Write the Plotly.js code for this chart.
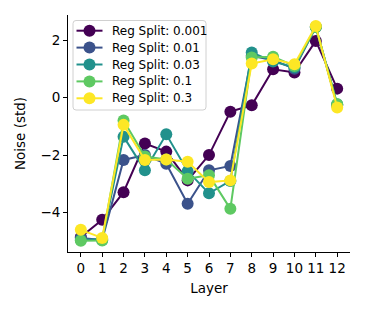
<!DOCTYPE html>
<html>
<head>
<meta charset="utf-8">
<script src="https://cdn.plot.ly/plotly-3.0.1.min.js"></script>
<style>html,body{margin:0;padding:0;background:#fff;}#chart{width:366px;height:313px;}</style>
</head>
<body>
<div id="chart"></div>
<script>
const layers = [0,1,2,3,4,5,6,7,8,9,10,11,12];
const seriesNames = ["Reg Split: 0.001","Reg Split: 0.01","Reg Split: 0.03","Reg Split: 0.1","Reg Split: 0.3"];
const colors = ["#440154","#3b528b","#21918c","#5ec962","#fde725"];
const s0001 = [-4.85,-4.25,-3.29,-1.6,-1.88,-2.88,-2.0,-0.49,-0.27,0.98,0.87,1.97,0.31];
const s001  = [-4.88,-4.95,-2.17,-2.0,-2.3,-3.69,-2.53,-2.38,1.45,1.3,1.0,2.45,-0.27];
const s003  = [-4.95,-4.92,-1.36,-2.53,-1.28,-2.56,-3.33,-2.9,1.57,1.25,1.05,2.45,-0.23];
const s01   = [-4.98,-4.97,-0.8,-2.05,-2.15,-2.82,-2.7,-3.87,1.39,1.42,1.1,2.45,-0.23];
const s03   = [-4.6,-4.88,-0.95,-2.17,-2.15,-2.23,-2.94,-2.88,1.18,1.33,1.16,2.49,-0.35];
const allSeries = [s0001,s001,s003,s01,s03];

const traces = allSeries.map((vals,i)=>({
  x: layers, y: vals, name: seriesNames[i], type:'scatter', mode:'lines+markers',
  line:{color:colors[i], width:2},
  marker:{color:colors[i], size:12},
  showlegend:false
}));

// plot area in pixels (for the hand-built legend box)
const W=366, H=313, ML=68, MR=16, MT=15, MB=61;
const PW=W-ML-MR, PH=H-MT-MB;
const px=v=>(v-ML)/PW, py=v=>(H-MB-v)/PH;

const shapes=[];
const annotations=[];
// legend frame with rounded corners
(function(){
  const x0=73,x1=206,y0=20.5,y1=110,r=3;
  const P=(a,b)=>px(a)+','+py(b);
  const path='M'+P(x0+r,y0)+' L'+P(x1-r,y0)+' Q'+P(x1,y0)+' '+P(x1,y0+r)+
    ' L'+P(x1,y1-r)+' Q'+P(x1,y1)+' '+P(x1-r,y1)+' L'+P(x0+r,y1)+' Q'+P(x0,y1)+' '+P(x0,y1-r)+
    ' L'+P(x0,y0+r)+' Q'+P(x0,y0)+' '+P(x0+r,y0)+' Z';
  shapes.push({type:'path', xref:'paper', yref:'paper', path:path, layer:'above',
    fillcolor:'rgba(255,255,255,0.8)', line:{color:'#d0d0d0', width:1}});
})();
seriesNames.forEach((name,i)=>{
  const rowY=30.7+i*16.9;
  shapes.push({type:'line', xref:'paper', yref:'paper', layer:'above',
    x0:px(76.5), x1:px(102.5), y0:py(rowY), y1:py(rowY), line:{color:colors[i], width:2}});
  shapes.push({type:'circle', xref:'paper', yref:'paper', layer:'above',
    xsizemode:'pixel', ysizemode:'pixel', xanchor:px(89.5), yanchor:py(rowY),
    x0:-6, x1:6, y0:-6, y1:6, fillcolor:colors[i], line:{width:0}});
  annotations.push({xref:'paper', yref:'paper', x:px(110), y:py(rowY), xanchor:'left', yanchor:'middle',
    text:name, showarrow:false, font:{family:'DejaVu Sans', size:12, color:'#000'}});
});

const layout = {
  width:W, height:H,
  margin:{l:ML, r:MR, t:MT, b:MB},
  paper_bgcolor:'#fff', plot_bgcolor:'#fff',
  font:{family:'DejaVu Sans', size:13, color:'#000'},
  showlegend:false,
  shapes:shapes, annotations:annotations,
  xaxis:{range:[-0.6,12.6], tickmode:'array', tickvals:layers, ticktext:layers.map(String),
    showgrid:false, zeroline:false, showline:true, linecolor:'#000', linewidth:1,
    ticks:'outside', ticklen:4, tickcolor:'#000', tickfont:{size:13.5},
    title:{text:'Layer', font:{size:13.5}, standoff:8}},
  yaxis:{range:[-5.37,2.87], tickvals:[-4,-2,0,2],
    showgrid:false, zeroline:false, showline:true, linecolor:'#000', linewidth:1,
    ticks:'outside', ticklen:4, tickcolor:'#000', tickfont:{size:13.5},
    title:{text:'Noise (std)', font:{size:13.5}, standoff:11}}
};
Plotly.newPlot('chart', traces, layout, {displayModeBar:false, staticPlot:true});
</script>
</body>
</html>
